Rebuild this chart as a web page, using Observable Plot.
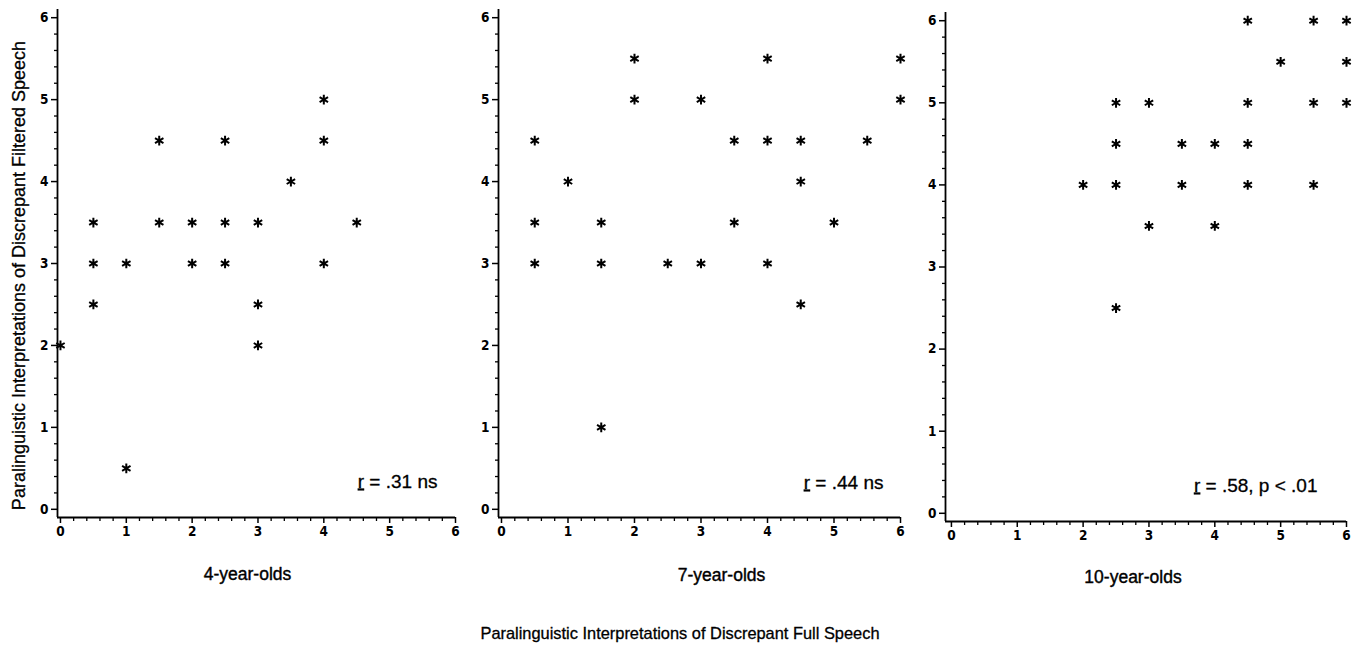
<!DOCTYPE html>
<html><head><meta charset="utf-8">
<script src="https://cdn.jsdelivr.net/npm/d3@7"></script>
<script src="https://cdn.jsdelivr.net/npm/@observablehq/plot@0.6"></script>
<style>
body{margin:0;background:#fff;}
#fig{position:relative;width:1360px;height:648px;font-family:"Liberation Sans",Arial,sans-serif;color:#000;}
.panel{position:absolute;top:0;}
#xlabel{position:absolute;top:623px;left:0;width:1360px;text-align:center;font-size:16.4px;line-height:20px;-webkit-text-stroke:0.3px #000;}
</style></head><body><div id="fig"><div id="xlabel"></div></div>
<script>
// ---- data ----
const panelTitles = ["4-year-olds", "7-year-olds", "10-year-olds"];
const annotationTexts = ["r = .31 ns", "r = .44 ns", "r = .58, p < .01"];
const xAxisTitle = "Paralinguistic Interpretations of Discrepant Full Speech";
const yAxisTitle = "Paralinguistic Interpretations of Discrepant Filtered Speech";
const majorTicks = [0, 1, 2, 3, 4, 5, 6];
const minorTicks = [0.2,0.4,0.6,0.8,1.2,1.4,1.6,1.8,2.2,2.4,2.6,2.8,3.2,3.4,3.6,3.8,4.2,4.4,4.6,4.8,5.2,5.4,5.6,5.8];

// 4-year-olds
const age4Full     = [0, 0.5, 0.5, 0.5, 1, 1,   1.5, 1.5, 2,   2, 2.5, 2.5, 2.5, 3,   3,   3, 3.5, 4, 4,   4, 4.5];
const age4Filtered = [2, 3.5, 3,   2.5, 3, 0.5, 4.5, 3.5, 3.5, 3, 4.5, 3.5, 3,   3.5, 2.5, 2, 4,   5, 4.5, 3, 3.5];
// 7-year-olds
const age7Full     = [0.5, 0.5, 0.5, 1, 1.5, 1.5, 1.5, 2,   2, 2.5, 3, 3, 3.5, 3.5, 4,   4,   4, 4.5, 4.5, 4.5, 5,   5.5, 6,   6];
const age7Filtered = [4.5, 3.5, 3,   4, 3.5, 3,   1,   5.5, 5, 3,   5, 3, 4.5, 3.5, 5.5, 4.5, 3, 4.5, 4,   2.5, 3.5, 4.5, 5.5, 5];
// 10-year-olds
const age10Full     = [2, 2.5, 2.5, 2.5, 2.5, 3, 3,   3.5, 3.5, 4,   4,   4.5, 4.5, 4.5, 4.5, 5,   5.5, 5.5, 5.5, 6, 6,   6];
const age10Filtered = [4, 5,   4.5, 4,   2.5, 5, 3.5, 4.5, 4,   4.5, 3.5, 6,   5,   4.5, 4,   5.5, 6,   5,   4,   6, 5.5, 5];

const series = [
  [age4Full, age4Filtered],
  [age7Full, age7Filtered],
  [age10Full, age10Filtered]
];

// ---- layout (styles / positions) ----
const layout = [
  {left: 0,   width: 470, ml: 57, mr: 15, mt: 9,  mb: 83, xMin: -0.045, titleDx: -9,  titleDy: 62, annDx: -18, annDy: -30},
  {left: 470, width: 450, ml: 28, mr: 20, mt: 9,  mb: 83, xMin: -0.045, titleDx: 22,  titleDy: 63, annDx: -17, annDy: -29},
  {left: 920, width: 440, ml: 25, mr: 14, mt: 12, mb: 79, xMin: -0.09,  titleDx: -13, titleDy: 61, annDx: -29, annDy: -30}
];
const tickFont = '"Liberation Sans Narrow","DejaVu Sans Condensed","Liberation Sans",sans-serif';

const fig = document.getElementById("fig");
document.getElementById("xlabel").textContent = xAxisTitle;

layout.forEach((L, i) => {
  const [xs, ys] = series[i];
  const data = xs.map((x, j) => ({full: x, filtered: ys[j]}));
  const marks = [
    Plot.ruleX([L.xMin], {stroke: "black", strokeWidth: 1.8}),
    Plot.ruleY([-0.1], {stroke: "black", strokeWidth: 1.8}),
    Plot.axisX({ticks: majorTicks, tickSize: 6, tickPadding: 3, label: null, tickFormat: d => d,
      fontSize: 13.5, fontWeight: "bold", fontFamily: tickFont, strokeWidth: 1.5}),
    Plot.axisX({ticks: minorTicks, tickSize: 4, label: null, tickFormat: () => "", strokeWidth: 1.3}),
    Plot.axisY({ticks: majorTicks, tickSize: 6, tickPadding: 3, label: null, tickFormat: d => d,
      fontSize: 13.5, fontWeight: "bold", fontFamily: tickFont, strokeWidth: 1.5}),
    Plot.axisY({ticks: minorTicks, tickSize: 3, label: null, tickFormat: () => "", strokeWidth: 1.3}),
    Plot.dot(data, {x: "full", y: "filtered", symbol: "asterisk", r: 4.6, stroke: "black", strokeWidth: 2}),
    Plot.text([annotationTexts[i]], {text: d => d, frameAnchor: "bottom-right", textAnchor: "end",
      dx: L.annDx, dy: L.annDy, fontSize: 19, fill: "black", stroke: "black", strokeWidth: 0.3}),
    Plot.text([panelTitles[i]], {text: d => d, frameAnchor: "bottom", textAnchor: "middle", dx: L.titleDx, dy: L.titleDy,
      fontSize: 17.5, fill: "black", stroke: "black", strokeWidth: 0.4})
  ];
  if (i === 0) {
    marks.push(Plot.text([yAxisTitle], {text: d => d, frameAnchor: "left", textAnchor: "middle", rotate: -90, dx: -38, dy: 12,
      fontSize: 18, fill: "black", stroke: "black", strokeWidth: 0.3}));
  }
  const svg = Plot.plot({
    width: L.width, height: 600,
    marginLeft: L.ml, marginRight: L.mr, marginTop: L.mt, marginBottom: L.mb,
    style: {fontFamily: '"Liberation Sans",Arial,sans-serif', color: "black", background: "white", overflow: "visible"},
    x: {domain: [L.xMin, 6], label: null},
    y: {domain: [-0.1, 6.1], label: null},
    marks
  });
  d3.select(svg).selectAll("text").each(function () {
    const t = this.textContent;
    if (t.startsWith("r = ")) {
      const sel = d3.select(this);
      sel.text("");
      sel.append("tspan").style("text-decoration", "underline").text("r");
      sel.append("tspan").text(t.slice(1));
    }
  });
  const div = document.createElement("div");
  div.className = "panel";
  div.style.left = L.left + "px";
  div.appendChild(svg);
  fig.appendChild(div);
});
</script></body></html>
